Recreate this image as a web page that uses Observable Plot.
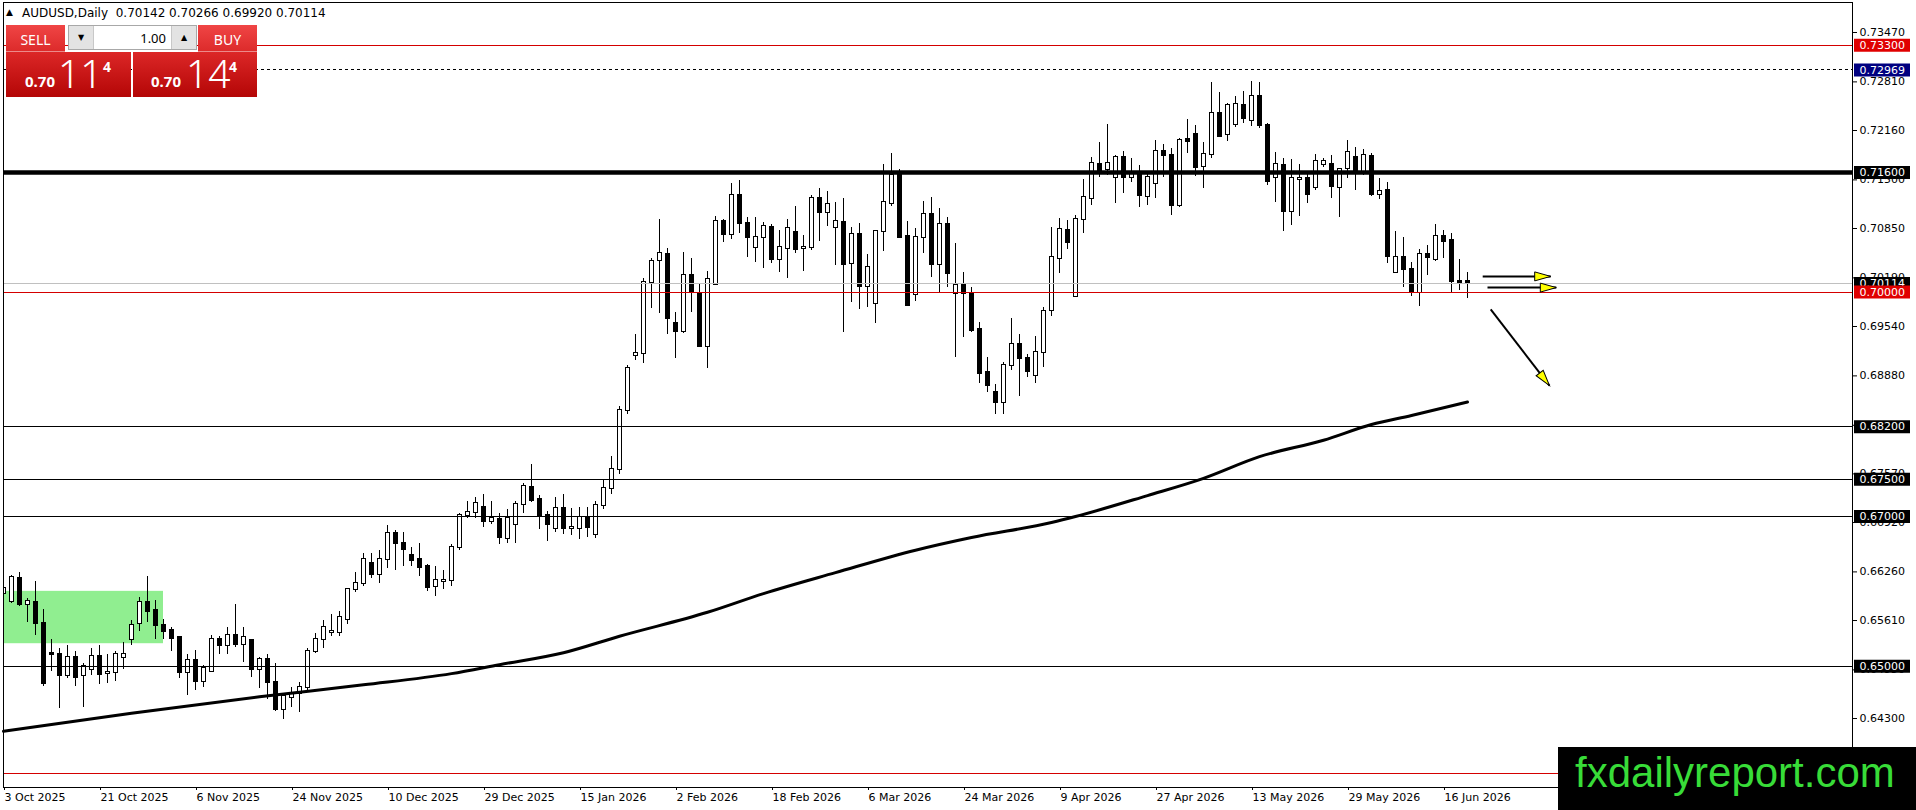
<!DOCTYPE html>
<html>
<head>
<meta charset="utf-8">
<script src="https://cdn.jsdelivr.net/npm/d3@7"></script>
<script src="https://cdn.jsdelivr.net/npm/@observablehq/plot@0.6"></script>
<style>
  html, body { margin: 0; padding: 0; background: #fff; }
  #wrap { position: relative; width: 1916px; height: 810px; overflow: hidden; font-family: "DejaVu Sans", sans-serif; }
  #chart svg { display: block; }
  .abs { position: absolute; line-height: 1; white-space: pre; }
  #tri { left: 6px; top: 8px; font-size: 9px; }
  #infotext { left: 22px; top: 7px; font-size: 12px; color: #000; }
  .btn { position: absolute; background: linear-gradient(#f04545, #dc2a2a); color: #fff; font-family: "Noto Sans", sans-serif;
         font-size: 14px; text-align: center; box-shadow: inset 0 -1px 0 rgba(255,255,255,0.45); }
  .btn span { position: absolute; left: 0; right: 0; top: 8px; line-height: 1; }
  .spin { position: absolute; background: #fff; border: 1px solid #a8a8a8; box-sizing: border-box; }
  .spin .dn, .spin .up { position: absolute; top: 0; bottom: 0; width: 24px; background: #e3e3e3; font-size: 8px; color: #000;
         display: flex; align-items: center; justify-content: center; }
  .spin .dn { left: 0; border-right: 1px solid #c8c8c8; }
  .spin .up { right: 0; border-left: 1px solid #c8c8c8; }
  .spin .val { position: absolute; right: 30px; top: 6px; font-family: "Noto Sans", sans-serif; font-size: 13px; line-height: 1; color: #000; }
  .quote { position: absolute; background: linear-gradient(#dc2727, #b40606); color: #fff; font-family: "Noto Sans", sans-serif; }
  .quote span { position: absolute; line-height: 1; white-space: pre; }
  .q-small { font-size: 15px; font-weight: bold; top: 22px; }
  .q-big { font-size: 39px; font-weight: 300; top: 1px; }
  .q-sup { font-size: 14px; font-weight: bold; top: 8px; }
  #wm { left: 1558px; top: 747px; width: 358px; height: 63px; background: #000; }
  #wm span { position: absolute; left: 17px; top: 5px; font-family: "Liberation Sans", Arial, sans-serif; font-size: 42px;
             line-height: 42px; color: #38dc38; white-space: pre; }
</style>
</head>
<body>
<div id="wrap">
  <div id="chart"></div>
  <div id="tri" class="abs">▲</div>
  <div id="infotext" class="abs"></div>
  <div class="btn" style="left:6px;top:25px;width:59px;height:27px"><span>SELL</span></div>
  <div class="spin" style="left:68px;top:25px;width:129px;height:25px">
    <div class="dn">▼</div><div class="val" id="lots"></div><div class="up">▲</div>
  </div>
  <div class="btn" style="left:198px;top:25px;width:59px;height:27px"><span>BUY</span></div>
  <div class="quote" style="left:6px;top:52px;width:125px;height:45px">
    <span class="q-small" style="left:19px" id="sellA"></span>
    <span class="q-big" style="left:52px" id="sellB"></span>
    <span class="q-sup" style="left:97px" id="sellC"></span>
  </div>
  <div class="quote" style="left:133px;top:52px;width:124px;height:45px">
    <span class="q-small" style="left:18px" id="buyA"></span>
    <span class="q-big" style="left:53px" id="buyB"></span>
    <span class="q-sup" style="left:96px" id="buyC"></span>
  </div>
  <div id="wm" class="abs"><span>fxdailyreport.com</span></div>
</div>
<script>
// AUDUSD daily candles, bar 0 = 3 Oct 2025
const opens = [
  0.6597,0.6586,0.6617,0.6583,0.6585,0.6557,0.6517,0.6516,0.6487,0.6512,
  0.6487,0.6496,0.6513,0.6490,0.6491,0.6512,0.6535,0.6557,0.6585,0.6575,
  0.6555,0.6547,0.6538,0.6491,0.6507,0.6480,0.6493,0.6536,0.6527,0.6541,
  0.6529,0.6534,0.6496,0.6509,0.6478,0.6442,0.6458,0.6464,0.6471,0.6519,
  0.6536,0.6545,0.6545,0.6563,0.6602,0.6610,0.6637,0.6623,0.6643,0.6677,
  0.6664,0.6648,0.6642,0.6633,0.6606,0.6613,0.6615,0.6658,0.6702,0.6705,
  0.6712,0.6694,0.6696,0.6671,0.6689,0.6716,0.6739,0.6723,0.6701,0.6684,
  0.6711,0.6684,0.6684,0.6699,0.6676,0.6715,0.6738,0.6763,0.6842,0.6915,
  0.6918,0.7013,0.7042,0.7050,0.6958,0.6947,0.7022,0.6998,0.6927,0.7010,
  0.7095,0.7077,0.7129,0.7092,0.7060,0.7073,0.7087,0.7044,0.7058,0.7080,
  0.7058,0.7059,0.7125,0.7107,0.7087,0.7093,0.7038,0.7077,0.7008,0.6985,
  0.7081,0.7119,0.7156,0.7074,0.6997,0.7073,0.7104,0.7037,0.7090,0.6998,
  0.7009,0.6998,0.6950,0.6893,0.6866,0.6853,0.6902,0.6930,0.6911,0.6889,
  0.6919,0.6976,0.7045,0.7082,0.6994,0.7097,0.7125,0.7171,0.7164,0.7153,
  0.7180,0.7153,0.7159,0.7128,0.7145,0.7188,0.7183,0.7116,0.7204,0.7211,
  0.7168,0.7184,0.7239,0.7211,0.7224,0.7250,0.7230,0.7262,0.7223,0.7153,
  0.7169,0.7108,0.7151,0.7152,0.7140,0.7171,0.7171,0.7140,0.7165,0.7180,
  0.7161,0.7181,0.7131,0.7136,0.7026,0.7046,0.7030,0.7000,0.7050,0.7044,
  0.7074,0.7069,0.7014,0.70142
];
const highs = [
  0.6615,0.6621,0.6625,0.6591,0.6613,0.6576,0.6536,0.6524,0.6527,0.6519,
  0.6504,0.6524,0.6527,0.6515,0.6520,0.6532,0.6561,0.6592,0.6620,0.6588,
  0.6563,0.6552,0.6540,0.6516,0.6521,0.6501,0.6541,0.6540,0.6552,0.6583,
  0.6552,0.6534,0.6512,0.6515,0.6504,0.6464,0.6471,0.6478,0.6524,0.6543,
  0.6561,0.6569,0.6573,0.6604,0.6625,0.6650,0.6650,0.6655,0.6688,0.6681,
  0.6679,0.6659,0.6664,0.6636,0.6633,0.6628,0.6662,0.6704,0.6720,0.6725,
  0.6729,0.6720,0.6704,0.6709,0.6720,0.6744,0.6770,0.6728,0.6707,0.6726,
  0.6730,0.6711,0.6712,0.6712,0.6720,0.6750,0.6780,0.6847,0.6902,0.6943,
  0.7018,0.7045,0.7097,0.7058,0.6973,0.7053,0.7045,0.7010,0.7028,0.7101,
  0.7097,0.7145,0.7149,0.7100,0.7100,0.7093,0.7091,0.7083,0.7097,0.7115,
  0.7076,0.7129,0.7139,0.7135,0.7120,0.7125,0.7087,0.7092,0.7050,0.7081,
  0.7171,0.7185,0.7164,0.7094,0.7085,0.7121,0.7127,0.7112,0.7100,0.7065,
  0.7026,0.7006,0.6960,0.6913,0.6877,0.6906,0.6965,0.6943,0.6917,0.6941,
  0.6980,0.7086,0.7099,0.7096,0.7103,0.7151,0.7180,0.7200,0.7224,0.7183,
  0.7188,0.7179,0.7169,0.7160,0.7203,0.7197,0.7192,0.7205,0.7231,0.7223,
  0.7200,0.7280,0.7267,0.7252,0.7262,0.7268,0.7282,0.7280,0.7226,0.7187,
  0.7179,0.7177,0.7171,0.7157,0.7184,0.7179,0.7183,0.7165,0.7203,0.7193,
  0.7191,0.7185,0.7152,0.7147,0.7081,0.7073,0.7040,0.7057,0.7062,0.7090,
  0.7082,0.7078,0.7044,0.70266
];
const lows = [
  0.6591,0.6584,0.6580,0.6559,0.6541,0.6473,0.6493,0.6444,0.6484,0.6473,
  0.6445,0.6488,0.6475,0.6477,0.6480,0.6496,0.6528,0.6546,0.6559,0.6535,
  0.6535,0.6519,0.6484,0.6461,0.6467,0.6471,0.6492,0.6516,0.6516,0.6525,
  0.6505,0.6485,0.6470,0.6455,0.6439,0.6429,0.6445,0.6438,0.6466,0.6517,
  0.6524,0.6539,0.6539,0.6556,0.6599,0.6606,0.6617,0.6610,0.6630,0.6628,
  0.6633,0.6633,0.6620,0.6600,0.6593,0.6603,0.6606,0.6654,0.6697,0.6697,
  0.6685,0.6689,0.6662,0.6664,0.6664,0.6704,0.6719,0.6683,0.6667,0.6679,
  0.6676,0.6675,0.6669,0.6672,0.6671,0.6709,0.6730,0.6756,0.6836,0.6909,
  0.6905,0.6978,0.6972,0.6943,0.6911,0.6945,0.6973,0.6926,0.6898,0.7010,
  0.7066,0.7070,0.7078,0.7046,0.7040,0.7032,0.7038,0.7026,0.7018,0.7052,
  0.7028,0.7056,0.7068,0.7088,0.7036,0.6946,0.6986,0.6977,0.6980,0.6958,
  0.7054,0.7114,0.7073,0.6981,0.6988,0.7052,0.7020,0.6999,0.7006,0.6913,
  0.6939,0.6946,0.6878,0.6866,0.6837,0.6837,0.6895,0.6861,0.6886,0.6878,
  0.6899,0.6968,0.7025,0.7057,0.6993,0.7078,0.7116,0.7153,0.7156,0.7119,
  0.7132,0.7147,0.7113,0.7116,0.7125,0.7153,0.7103,0.7113,0.7185,0.7155,
  0.7139,0.7179,0.7206,0.7201,0.7220,0.7225,0.7222,0.7219,0.7143,0.7120,
  0.7081,0.7089,0.7101,0.7119,0.7136,0.7167,0.7125,0.7100,0.7152,0.7136,
  0.7156,0.7128,0.7124,0.7038,0.7025,0.7006,0.6994,0.6981,0.7022,0.7041,
  0.7045,0.6998,0.7002,0.69920
];
const closes = [
  0.6604,0.6619,0.6582,0.6587,0.6557,0.6477,0.6516,0.6487,0.6512,0.6485,
  0.6499,0.6513,0.6489,0.6491,0.6515,0.6516,0.6554,0.6585,0.6573,0.6555,
  0.6546,0.6537,0.6491,0.6507,0.6480,0.6497,0.6536,0.6528,0.6541,0.6529,
  0.6538,0.6496,0.6509,0.6478,0.6442,0.6460,0.6464,0.6472,0.6519,0.6536,
  0.6552,0.6546,0.6565,0.6602,0.6610,0.6642,0.6623,0.6643,0.6677,0.6664,
  0.6656,0.6641,0.6632,0.6605,0.6615,0.6614,0.6658,0.6702,0.6705,0.6717,
  0.6693,0.6697,0.6672,0.6697,0.6716,0.6740,0.6722,0.6701,0.6689,0.6711,
  0.6684,0.6685,0.6699,0.6685,0.6715,0.6738,0.6763,0.6842,0.6898,0.6918,
  0.7013,0.7041,0.7052,0.6965,0.6947,0.7022,0.6999,0.6927,0.7017,0.7095,
  0.7077,0.7129,0.7092,0.7073,0.7073,0.7088,0.7044,0.7060,0.7085,0.7057,
  0.7060,0.7125,0.7107,0.7117,0.7095,0.7037,0.7077,0.7008,0.7033,0.7081,
  0.7120,0.7156,0.7073,0.6982,0.7073,0.7104,0.7037,0.7090,0.7025,0.7009,
  0.6998,0.6949,0.6891,0.6875,0.6853,0.6902,0.6930,0.6911,0.6894,0.6919,
  0.6974,0.7046,0.7084,0.7066,0.7097,0.7127,0.7172,0.7160,0.7172,0.7180,
  0.7153,0.7159,0.7129,0.7153,0.7188,0.7183,0.7116,0.7203,0.7201,0.7167,
  0.7184,0.7239,0.7208,0.7250,0.7251,0.7232,0.7262,0.7223,0.7148,0.7171,
  0.7108,0.7152,0.7152,0.7131,0.7175,0.7175,0.7141,0.7164,0.7187,0.7161,
  0.7183,0.7131,0.7135,0.7048,0.7046,0.7030,0.7000,0.7050,0.7046,0.7074,
  0.7068,0.7014,0.7013,0.70114
];

// moving average read at a few bars
const maBars   = [0, 16, 32, 45, 56, 62, 70, 77, 88, 95, 104, 114, 121, 131, 134, 143, 150, 157, 165, 171, 176, 183];
const maValues = [0.6413, 0.6437, 0.6459, 0.6475, 0.6490, 0.6502, 0.6518, 0.6540, 0.6572, 0.6597, 0.6625, 0.6655,
                  0.6672, 0.6692, 0.6700, 0.6728, 0.6751, 0.6780, 0.6802, 0.6823, 0.6835, 0.6853];

const dateTickBars = [0, 12, 24, 36, 48, 60, 72, 84, 96, 108, 120, 132, 144, 156, 168, 180];
const dateLabels = ["3 Oct 2025", "21 Oct 2025", "6 Nov 2025", "24 Nov 2025", "10 Dec 2025", "29 Dec 2025",
  "15 Jan 2026", "2 Feb 2026", "18 Feb 2026", "6 Mar 2026", "24 Mar 2026", "9 Apr 2026", "27 Apr 2026",
  "13 May 2026", "29 May 2026", "16 Jun 2026"];
const priceTicks = [0.7347, 0.7281, 0.7216, 0.7150, 0.7085, 0.7019, 0.6954, 0.6888, 0.6822, 0.6757,
  0.6692, 0.6626, 0.6561, 0.6495, 0.6430];

const redLevels = [0.7330, 0.7000, 0.6357];
const blackLevels = [0.6820, 0.6750, 0.6700, 0.6500];
const resistanceLevel = [0.7160];
const dashedLevel = [0.72969];
const bidLevel = [0.70114];

const zoneBars = [0, 20];
const zonePrices = [0.6530, 0.6600];

const arrowFromBar = [184.9, 185.5, 185.9];
const arrowFromPrice = [0.7021, 0.7006, 0.6977];
const arrowToBar = [193.4, 194.1, 193.25];
const arrowToPrice = [0.7021, 0.7006, 0.6875];
const arrowHeadTurn = [90, 90, 142];

const bid = 0.70114, ask = 0.70144, lots = 1.00;

const f5 = d3.format(".5f");
const candles = opens.map((o, i) => ({i, o, h: highs[i], l: lows[i], c: closes[i]}));
const maLine = maBars.map((b, i) => ({b, v: maValues[i]}));
const arrows = arrowFromBar.map((b, i) => ({
  x1: b, y1: arrowFromPrice[i], x2: arrowToBar[i], y2: arrowToPrice[i], turn: arrowHeadTurn[i]
}));

// yellow arrow head, tip at the origin, pointing up before rotation
const headSymbol = {
  draw(ctx) { ctx.moveTo(0, 0); ctx.lineTo(-4.5, 16); ctx.lineTo(4.5, 16); ctx.closePath(); }
};

const W = 1916, H = 810, mL = 3, mR = 64, mT = 2, mB = 23, barPx = 8;
const xEnd = (W - mL - mR) / barPx;

function priceTag(levels, bg) {
  return [
    Plot.ruleY(levels, {y: d => d, x1: xEnd + 0.25, x2: xEnd + 7.25, stroke: bg, strokeWidth: 13}),
    Plot.text(levels, {y: d => d, frameAnchor: "right", dx: 7, text: d => f5(d), fill: "#fff", textAnchor: "start", fontSize: 11})
  ];
}

const body = {
  x1: d => d.i - 0.25, x2: d => d.i + 0.25,
  y1: d => Math.min(d.o, d.c), y2: d => Math.max(d.o, d.c),
  stroke: "#000", insetTop: -0.5, insetBottom: -0.5, shapeRendering: "crispEdges", clip: true
};
const crisp = {shapeRendering: "crispEdges"};

const plot = Plot.plot({
  width: W, height: H,
  marginLeft: mL, marginRight: mR, marginTop: mT, marginBottom: mB,
  style: {background: "#fff", fontFamily: "DejaVu Sans", fontSize: "11px", color: "#000", overflow: "visible"},
  x: {type: "linear", domain: [0, xEnd]},
  y: {domain: [0.63378, 0.73871]},
  marks: [
    Plot.rect([0], {x1: zoneBars[0], x2: zoneBars[1], y1: zonePrices[0], y2: zonePrices[1], fill: "#90ee90"}),
    Plot.ruleX(candles, {x: "i", y1: "l", y2: "h", stroke: "#000", clip: true, ...crisp}),
    Plot.rect(candles, {...body, filter: d => d.c >= d.o, fill: "#fff"}),
    Plot.rect(candles, {...body, filter: d => d.c < d.o, fill: "#000"}),
    Plot.line(maLine, {x: "b", y: "v", stroke: "#000", strokeWidth: 3, curve: "monotone-x"}),
    Plot.ruleY(blackLevels, {stroke: "#000", ...crisp}),
    Plot.ruleY(redLevels, {stroke: "#d40000", ...crisp}),
    Plot.ruleY(bidLevel, {stroke: "#c0c0c0", ...crisp}),
    Plot.ruleY(dashedLevel, {stroke: "#000", strokeDasharray: "3,3", ...crisp}),
    Plot.ruleY(resistanceLevel, {stroke: "#000", strokeWidth: 4.5}),
    Plot.link(arrows, {x1: "x1", y1: "y1", x2: "x2", y2: "y2", stroke: "#000", strokeWidth: 2}),
    Plot.dot(arrows, {x: "x2", y: "y2", symbol: headSymbol, rotate: "turn", r: 5, fill: "#ffff00", stroke: "#000", strokeWidth: 1}),
    Plot.frame({stroke: "#000", ...crisp}),
    Plot.axisY({anchor: "right", ticks: priceTicks, tickFormat: f5, tickSize: 4, tickPadding: 3, fontSize: 11, label: null}),
    Plot.axisX({anchor: "bottom", ticks: dateTickBars, tickFormat: d => dateLabels[dateTickBars.indexOf(d)],
      textAnchor: "start", dx: 1, tickSize: 3, tickPadding: 3, fontSize: 11, label: null}),
    ...priceTag(resistanceLevel, "#000"),
    ...priceTag(blackLevels, "#000"),
    ...priceTag(bidLevel, "#000"),
    ...priceTag(redLevels, "#e00000"),
    ...priceTag(dashedLevel, "#000080")
  ]
});
document.querySelector("#chart").append(plot);

// header and one-click trading panel
const last = candles[candles.length - 1];
document.querySelector("#infotext").textContent =
  `AUDUSD,Daily  ${f5(last.o)} ${f5(last.h)} ${f5(last.l)} ${f5(last.c)}`;
document.querySelector("#lots").textContent = lots.toFixed(2);
function splitQuote(p, prefix) {
  const s = f5(p);
  document.querySelector(`#${prefix}A`).textContent = s.slice(0, 4);
  document.querySelector(`#${prefix}B`).textContent = s.slice(4, 6);
  document.querySelector(`#${prefix}C`).textContent = s.slice(6);
}
splitQuote(bid, "sell");
splitQuote(ask, "buy");
</script>
</body>
</html>
